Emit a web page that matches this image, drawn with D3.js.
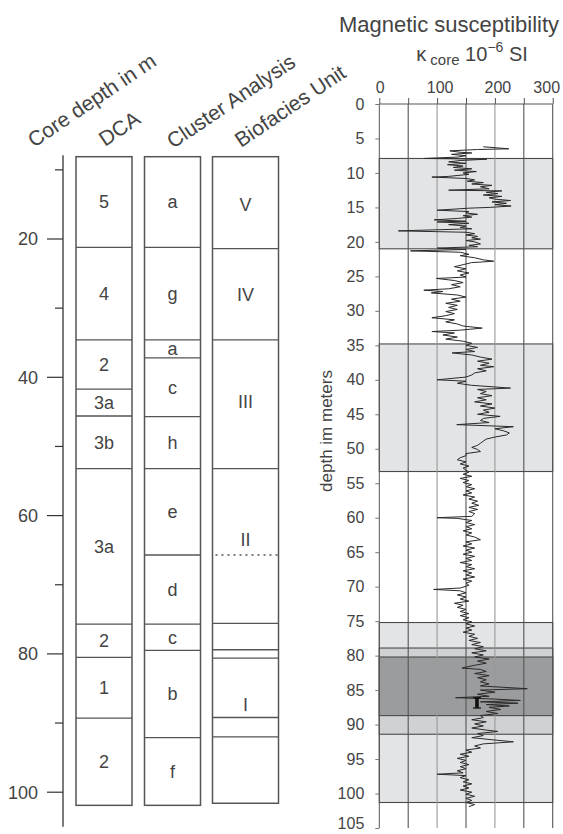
<!DOCTYPE html>
<html>
<head>
<meta charset="utf-8">
<script src="https://cdn.jsdelivr.net/npm/d3@7"></script>
<style>
  html, body { margin: 0; padding: 0; background: #fff; }
  svg { display: block; font-family: "Liberation Sans", Arial, sans-serif; }
  text { fill: #444; }
</style>
</head>
<body>
<div id="chart"></div>
<script>
// --- DATA ---
const columnTitles = ['Core depth in m', 'DCA', 'Cluster Analysis', 'Biofacies Unit'];

const dcaBounds = [8.1, 21.2, 34.6, 41.7, 45.6, 53.2, 75.7, 80.5, 89.3, 101.9];
const dcaLabels = ['5', '4', '2', '3a', '3b', '3a', '2', '1', '2'];

const clusterBounds = [8.1, 21.2, 34.6, 37.2, 45.7, 53.2, 65.7, 75.7, 79.5, 92.1, 101.9];
const clusterLabels = ['a', 'g', 'a', 'c', 'h', 'e', 'd', 'c', 'b', 'f'];

const bioBox = [8.1, 101.6];
const bioLines = [21.4, 34.6, 53.2, 75.6, 79.4, 80.6, 89.2, 92.0];
const bioDotted = [65.7];
const bioLabels = ['V', 'IV', 'III', 'II', 'I'];
const bioLabelDepths = [15.1, 28.1, 43.5, 63.5, 87.4];

const coreTicksMajor = [20, 40, 60, 80, 100];
const coreTicksMinor = [10, 30, 50, 70, 90];

const kappaTicks = [0, 100, 200, 300];
const kappaGrid = [50, 100, 150, 200, 250, 300];
const depthTicks = d3.range(0, 106, 5);

// shaded intervals on the susceptibility log: [top, bottom]
const lightBands = [[7.9, 21.0], [34.8, 53.3], [75.2, 101.3]];
const midBands = [[78.9, 91.4]];
const darkBands = [[80.2, 88.7]];

// marker bar at ~169 between 86.1 and 87.6 m
const markerValue = 169;
const markerRange = [86.1, 87.6];

// [depth m, kappa 10^-6 SI]
const kappaCore = [
  [6.2,180],[6.3,195],[6.5,224],[6.6,170],[6.8,122],[7.0,140],[7.1,160],[7.3,125],[7.5,150],[7.7,135],
  [7.9,77],[8.0,186],[8.2,140],[8.4,120],[8.6,150],[8.8,118],[9.0,145],[9.2,128],[9.4,160],[9.6,130],
  [9.8,168],[10.0,145],[10.2,155],[10.5,120],[10.6,91],[10.8,150],[11.0,165],[11.2,152],[11.4,180],[11.6,160],
  [11.8,195],[12.0,175],[12.3,190],[12.5,120],[12.6,212],[12.8,185],[13.0,205],[13.2,180],[13.4,212],[13.6,190],
  [13.8,200],[14.0,227],[14.2,195],[14.4,220],[14.6,200],[14.8,228],[15.0,190],[15.1,157],[15.4,100],[15.6,155],
  [15.8,150],[16.0,170],[16.2,145],[16.4,160],[16.6,135],[16.8,95],[17.0,150],[17.1,100],[17.3,155],[17.5,120],
  [17.7,150],[17.9,140],[18.1,160],[18.4,33],[18.6,150],[18.8,165],[19.0,150],[19.2,170],[19.4,160],[19.6,175],
  [19.8,150],[20.0,165],[20.3,175],[20.5,155],[20.7,170],[20.9,100],[21.1,150],[21.3,54],[21.5,140],[21.8,155],
  [22.0,140],[22.3,165],[22.6,180],[22.8,198],[23.0,160],[23.3,145],[23.6,130],[23.9,150],[24.2,135],[24.5,155],
  [24.8,140],[25.1,150],[25.3,99],[25.6,130],[25.9,145],[26.2,125],[26.5,140],[26.8,120],[27.0,77],[27.2,110],
  [27.4,90],[27.7,135],[28.0,150],[28.3,125],[28.6,140],[28.9,115],[29.2,135],[29.5,120],[29.8,135],[30.1,115],
  [30.4,130],[30.7,115],[31.0,91],[31.3,130],[31.6,115],[31.9,135],[32.2,145],[32.5,178],[32.8,140],[33.0,91],
  [33.2,130],[33.5,110],[33.8,135],[34.1,115],[34.4,145],[34.7,160],[35.0,150],[35.3,170],[35.6,150],[35.9,165],
  [36.1,126],[36.4,160],[36.7,175],[37.0,195],[37.3,170],[37.6,190],[37.9,175],[38.1,198],[38.4,170],[38.7,185],
  [39.0,165],[39.3,160],[39.6,150],[40.0,100],[40.2,150],[40.5,135],[40.8,160],[41.2,227],[41.4,170],[41.7,185],
  [42.0,175],[42.3,195],[42.6,170],[42.9,185],[43.2,165],[43.5,195],[43.8,175],[44.1,200],[44.4,180],[44.7,190],
  [45.0,170],[45.3,209],[45.6,180],[45.9,175],[46.2,190],[46.5,134],[46.8,232],[47.1,200],[47.4,215],[47.7,225],
  [48.0,220],[48.3,200],[48.6,185],[48.9,180],[49.2,175],[49.5,170],[49.8,160],[50.1,170],[50.4,175],[50.7,150],
  [51.0,150],[51.3,140],[51.6,135],[51.9,150],[52.2,140],[52.5,155],[52.8,145],[53.1,150],[53.4,155],[53.7,145],
  [54.0,160],[54.3,140],[54.6,155],[54.9,145],[55.2,160],[55.5,150],[55.8,165],[56.1,150],[56.4,160],[56.7,145],
  [57.0,165],[57.3,155],[57.6,170],[57.9,160],[58.2,172],[58.5,155],[58.8,170],[59.1,155],[59.4,165],[59.8,160],
  [60.0,100],[60.1,135],[60.4,160],[60.7,150],[61.0,165],[61.3,150],[61.6,160],[61.9,145],[62.2,160],[62.5,150],
  [62.8,165],[63.2,175],[63.5,150],[63.8,160],[64.1,145],[64.4,165],[64.7,150],[65.0,160],[65.3,145],[65.6,165],
  [65.9,150],[66.2,160],[66.5,140],[66.8,160],[67.1,150],[67.4,165],[67.7,145],[68.0,160],[68.3,150],[68.6,165],
  [68.9,145],[69.2,160],[69.5,150],[69.8,155],[70.2,140],[70.4,94],[70.6,140],[70.9,150],[71.2,135],[71.5,150],
  [71.8,140],[72.1,155],[72.4,130],[72.7,145],[73.0,135],[73.3,150],[73.6,140],[73.9,155],[74.2,140],[74.5,155],
  [74.8,145],[75.1,160],[75.4,150],[75.7,165],[76.0,150],[76.3,160],[76.6,145],[76.9,165],[77.2,155],[77.5,170],
  [77.8,155],[78.1,175],[78.4,160],[78.7,180],[79.0,165],[79.3,185],[79.6,160],[79.9,180],[80.2,165],[80.5,190],
  [80.8,170],[81.1,185],[81.4,165],[81.8,143],[82.0,175],[82.3,185],[82.6,165],[82.9,190],[83.2,170],[83.5,185],
  [83.8,175],[84.1,190],[84.4,175],[84.8,256],[85.0,175],[85.3,200],[85.6,170],[85.9,190],[86.1,132],[86.3,200],
  [86.5,244],[86.7,175],[86.9,240],[87.1,185],[87.3,225],[87.5,190],[87.8,210],[88.1,185],[88.4,205],[88.7,175],
  [89.0,180],[89.3,160],[89.6,185],[89.9,165],[90.2,180],[90.5,160],[90.8,185],[91.0,205],[91.3,170],[91.6,180],
  [91.9,160],[92.2,195],[92.5,232],[92.8,180],[93.1,165],[93.4,175],[93.7,150],[94.0,160],[94.3,140],[94.6,155],
  [94.9,135],[95.2,150],[95.5,140],[95.8,155],[96.1,140],[96.4,150],[96.7,135],[97.0,145],[97.2,100],[97.4,150],
  [97.7,140],[98.0,155],[98.3,145],[98.6,160],[98.9,145],[99.2,155],[99.5,140],[99.8,160],[100.1,150],[100.4,165],
  [100.7,150],[101.0,160],[101.3,150],[101.6,165],[101.9,155]
];

document.addEventListener('DOMContentLoaded', () => {
  const width = 563, height = 834;
  const lineCol = '#555';

  const svg = d3.select('#chart').append('svg')
    .attr('width', width)
    .attr('height', height);

  // --- LEFT PANEL: core depth + zonations ---
  const yCore = d3.scaleLinear().domain([0, 100]).range([100.7, 792.2]);

  const titleX = [34, 105, 173, 241];
  const titleY = [148, 147, 149, 148];
  svg.selectAll('text.coltitle')
    .data(columnTitles)
    .join('text')
    .attr('class', 'coltitle')
    .attr('transform', (d, i) => `translate(${titleX[i]},${titleY[i]}) rotate(-34)`)
    .style('font-size', '21px')
    .text(d => d);

  // depth axis
  const axisX = 63;
  svg.append('line')
    .attr('x1', axisX).attr('x2', axisX)
    .attr('y1', yCore(7.9)).attr('y2', yCore(105))
    .attr('stroke', '#333').attr('stroke-width', 1.3);

  svg.selectAll('line.major')
    .data(coreTicksMajor)
    .join('line')
    .attr('x1', axisX - 16).attr('x2', axisX)
    .attr('y1', d => yCore(d)).attr('y2', d => yCore(d))
    .attr('stroke', '#333').attr('stroke-width', 1.2);

  svg.selectAll('line.minor')
    .data(coreTicksMinor)
    .join('line')
    .attr('x1', axisX - 8).attr('x2', axisX)
    .attr('y1', d => yCore(d)).attr('y2', d => yCore(d))
    .attr('stroke', '#333').attr('stroke-width', 1.2);

  svg.selectAll('text.coretick')
    .data(coreTicksMajor)
    .join('text')
    .attr('x', 38)
    .attr('y', d => yCore(d))
    .attr('dy', '0.35em')
    .attr('text-anchor', 'end')
    .style('font-size', '18px')
    .text(d => d);

  // zonation columns
  function zoneColumn(x0, x1, bounds, labels) {
    const g = svg.append('g');
    g.append('rect')
      .attr('x', x0).attr('y', yCore(bounds[0]))
      .attr('width', x1 - x0)
      .attr('height', yCore(bounds[bounds.length - 1]) - yCore(bounds[0]))
      .attr('fill', 'none').attr('stroke', lineCol).attr('stroke-width', 1.5);
    g.selectAll('line')
      .data(bounds.slice(1, -1))
      .join('line')
      .attr('x1', x0).attr('x2', x1)
      .attr('y1', d => yCore(d)).attr('y2', d => yCore(d))
      .attr('stroke', lineCol).attr('stroke-width', 1.3);
    g.selectAll('text')
      .data(labels)
      .join('text')
      .attr('x', (x0 + x1) / 2)
      .attr('y', (d, i) => (yCore(bounds[i]) + yCore(bounds[i + 1])) / 2)
      .attr('dy', '0.35em')
      .attr('text-anchor', 'middle')
      .style('font-size', '18px')
      .text(d => d);
  }

  zoneColumn(76, 132, dcaBounds, dcaLabels);
  zoneColumn(144.5, 200.5, clusterBounds, clusterLabels);

  // biofacies column
  const bx0 = 212.5, bx1 = 278.5;
  const bio = svg.append('g');
  bio.append('rect')
    .attr('x', bx0).attr('y', yCore(bioBox[0]))
    .attr('width', bx1 - bx0)
    .attr('height', yCore(bioBox[1]) - yCore(bioBox[0]))
    .attr('fill', 'none').attr('stroke', lineCol).attr('stroke-width', 1.5);
  bio.selectAll('line.solid')
    .data(bioLines)
    .join('line')
    .attr('class', 'solid')
    .attr('x1', bx0).attr('x2', bx1)
    .attr('y1', d => yCore(d)).attr('y2', d => yCore(d))
    .attr('stroke', lineCol).attr('stroke-width', 1.3);
  bio.selectAll('line.dotted')
    .data(bioDotted)
    .join('line')
    .attr('class', 'dotted')
    .attr('x1', bx0 + 3).attr('x2', bx1)
    .attr('y1', d => yCore(d)).attr('y2', d => yCore(d))
    .attr('stroke', lineCol).attr('stroke-width', 1.3)
    .attr('stroke-dasharray', '2,4');
  bio.selectAll('text')
    .data(bioLabels)
    .join('text')
    .attr('x', (bx0 + bx1) / 2)
    .attr('y', (d, i) => yCore(bioLabelDepths[i]))
    .attr('dy', '0.35em')
    .attr('text-anchor', 'middle')
    .style('font-size', '18px')
    .text(d => d);

  // --- RIGHT PANEL: magnetic susceptibility ---
  const x = d3.scaleLinear().domain([0, 300]).range([379.3, 552.7]);
  const y = d3.scaleLinear().domain([0, 105]).range([104, 828]);

  svg.append('text')
    .attr('x', 449).attr('y', 32)
    .attr('text-anchor', 'middle')
    .style('font-size', '22px')
    .text('Magnetic susceptibility');

  const sub = svg.append('text')
    .attr('x', 472).attr('y', 61)
    .attr('text-anchor', 'middle')
    .style('font-size', '20px');
  sub.append('tspan').text('κ');
  sub.append('tspan').attr('dy', 4).style('font-size', '15px').text(' core');
  sub.append('tspan').attr('dy', -4).text(' 10');
  sub.append('tspan').attr('dy', -9).style('font-size', '14px').text('−6');
  sub.append('tspan').attr('dy', 9).text(' SI');

  // shaded bands
  function bands(list, fill) {
    svg.append('g').selectAll('rect')
      .data(list)
      .join('rect')
      .attr('x', x(0)).attr('width', x(300) - x(0))
      .attr('y', d => y(d[0]))
      .attr('height', d => y(d[1]) - y(d[0]))
      .attr('fill', fill)
      .attr('stroke', '#4a4a4a').attr('stroke-width', 1.1);
  }
  bands(lightBands, '#e3e4e6');
  bands(midBands, '#d0d1d3');
  bands(darkBands, '#9b9c9e');

  // grid
  svg.append('g').selectAll('line')
    .data(kappaGrid)
    .join('line')
    .attr('x1', d => x(d)).attr('x2', d => x(d))
    .attr('y1', y(0)).attr('y2', y(105))
    .attr('stroke', d => (d === 100 || d === 200) ? '#9a9a9a' : '#555')
    .attr('stroke-width', 1.1);

  // top axis
  const xAxis = d3.axisTop(x).tickValues(kappaGrid.concat([0])).tickSize(6).tickFormat('');
  const gx = svg.append('g').attr('transform', `translate(0,${y(0)})`).call(xAxis);
  gx.select('.domain').attr('stroke', '#555').attr('d', `M${x(0)},0H${x(300)}`);
  gx.selectAll('.tick line').attr('stroke', '#555');

  svg.selectAll('text.kappatick')
    .data(kappaTicks)
    .join('text')
    .attr('class', 'kappatick')
    .attr('x', d => d === 300 ? x(d) - 6 : x(d) + (d ? 3 : 1))
    .attr('y', 93)
    .attr('text-anchor', 'middle')
    .style('font-size', '16px')
    .text(d => d);

  // left depth axis
  const yAxis = d3.axisLeft(y).tickValues(depthTicks).tickSize(4).tickPadding(11);
  const gy = svg.append('g').attr('transform', `translate(${x(0)},0)`).call(yAxis);
  gy.select('.domain').attr('stroke', '#555').attr('d', `M0,${y(0)}V${y(105)}`);
  gy.selectAll('.tick line').attr('stroke', '#777');
  gy.selectAll('.tick text')
    .attr('fill', '#444')
    .attr('dy', d => d === 105 ? '0.05em' : '0.32em')
    .style('font-size', '16px')
    .style('font-family', '"Liberation Sans", Arial, sans-serif');

  svg.append('text')
    .attr('transform', 'translate(332,431) rotate(-90)')
    .attr('text-anchor', 'middle')
    .style('font-size', '17px')
    .text('depth im meters');

  // susceptibility curve
  const line = d3.line()
    .x(d => x(d[1]))
    .y(d => y(d[0]));

  svg.append('path')
    .datum(kappaCore)
    .attr('d', line)
    .attr('fill', 'none')
    .attr('stroke', '#2a2a2a')
    .attr('stroke-width', 1)
    .attr('stroke-linejoin', 'miter');

  // marker bar
  svg.append('rect')
    .attr('x', x(markerValue) - 1.8).attr('width', 3.6)
    .attr('y', y(markerRange[0]))
    .attr('height', y(markerRange[1]) - y(markerRange[0]))
    .attr('fill', '#111');
  svg.selectAll('line.cap')
    .data(markerRange)
    .join('line')
    .attr('x1', x(markerValue) - 4).attr('x2', x(markerValue) + 4)
    .attr('y1', d => y(d)).attr('y2', d => y(d))
    .attr('stroke', '#111').attr('stroke-width', 1.2);
});
</script>
</body>
</html>
